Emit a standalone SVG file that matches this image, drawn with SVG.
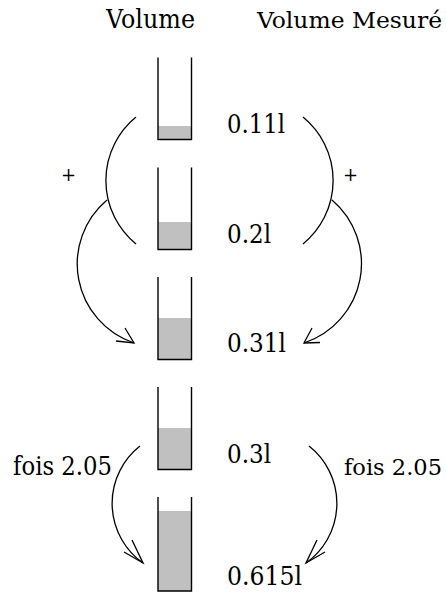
<svg xmlns="http://www.w3.org/2000/svg" width="446" height="593" viewBox="0 0 446 593">
  <style>
    text { font-family: 'DejaVu Serif', 'Liberation Serif', serif; font-size: 26px; fill: #000; }
    .edge { font-size: 23px; }
    .op { font-size: 18px; }
    .wall { fill: none; stroke: #000; stroke-width: 1.4; }
    .liquid { fill: #c0c0c0; stroke: none; }
    .arc { fill: none; stroke: #000; stroke-width: 1.3; }
  </style>
  <rect width="446" height="593" fill="#fff"/>

  <!-- column headings -->
  <text x="106" y="28" textLength="89" lengthAdjust="spacingAndGlyphs">Volume</text>
  <text class="edge" x="257" y="28" textLength="185" lengthAdjust="spacingAndGlyphs">Volume Mesuré</text>

  <!-- beakers -->
  <g id="beaker1">
    <rect class="liquid" x="158" y="126" width="33.5" height="13.5"/>
    <path class="wall" d="M158,57.5 V139.5 H191.5 V57.5"/>
  </g>
  <g id="beaker2">
    <rect class="liquid" x="158" y="222" width="33.5" height="27.5"/>
    <path class="wall" d="M158,167.5 V249.5 H191.5 V167.5"/>
  </g>
  <g id="beaker3">
    <rect class="liquid" x="158" y="318" width="33.5" height="41.5"/>
    <path class="wall" d="M158,277 V359.5 H191.5 V277"/>
  </g>
  <g id="beaker4">
    <rect class="liquid" x="158" y="428" width="33.5" height="41.5"/>
    <path class="wall" d="M158,387 V469.5 H191.5 V387"/>
  </g>
  <g id="beaker5">
    <rect class="liquid" x="158" y="511" width="33.5" height="80"/>
    <path class="wall" d="M158,497 V591 H191.5 V497"/>
  </g>

  <!-- measured values -->
  <g id="value1"><text x="227" y="133" textLength="58" lengthAdjust="spacingAndGlyphs">0.11l</text></g>
  <g id="value2"><text x="227" y="243" textLength="44" lengthAdjust="spacingAndGlyphs">0.2l</text></g>
  <g id="value3"><text x="227" y="352" textLength="59" lengthAdjust="spacingAndGlyphs">0.31l</text></g>
  <g id="value4"><text x="227" y="463" textLength="44" lengthAdjust="spacingAndGlyphs">0.3l</text></g>
  <g id="value5"><text x="227" y="585" textLength="75" lengthAdjust="spacingAndGlyphs">0.615l</text></g>

  <!-- operation labels -->
  <g id="plus-left"><text class="op" x="61" y="181">+</text></g>
  <g id="plus-right"><text class="op" x="343" y="181">+</text></g>
  <g id="times-left"><text x="13" y="475" textLength="99" lengthAdjust="spacingAndGlyphs">fois 2.05</text></g>
  <g id="times-right"><text class="edge" x="344" y="475" textLength="98" lengthAdjust="spacingAndGlyphs">fois 2.05</text></g>

  <!-- connectors -->
  <g id="connectors">
    <!-- addition brackets -->
    <path class="arc" d="M136,117 A82,82 0 0 0 136,244"/>
    <path class="arc" d="M303,117 A82,82 0 0 1 303,244"/>
    <!-- addition result arrows -->
    <path class="arc" d="M107,200 A83.5,83.5 0 0 0 134,343"/>
    <polyline class="arc" points="116,341 134,343 125,328"/>
    <path class="arc" d="M332,200 A83.5,83.5 0 0 1 304,343"/>
    <polyline class="arc" points="320,342.5 304,343 312,328"/>
    <!-- multiplication arrows -->
    <path class="arc" d="M140,446 A73,73 0 0 0 143,563"/>
    <polyline class="arc" points="124,552 143,563 132,540"/>
    <path class="arc" d="M309,446 A73,73 0 0 1 306,563"/>
    <polyline class="arc" points="325,552 306,563 317,540"/>
  </g>
</svg>
